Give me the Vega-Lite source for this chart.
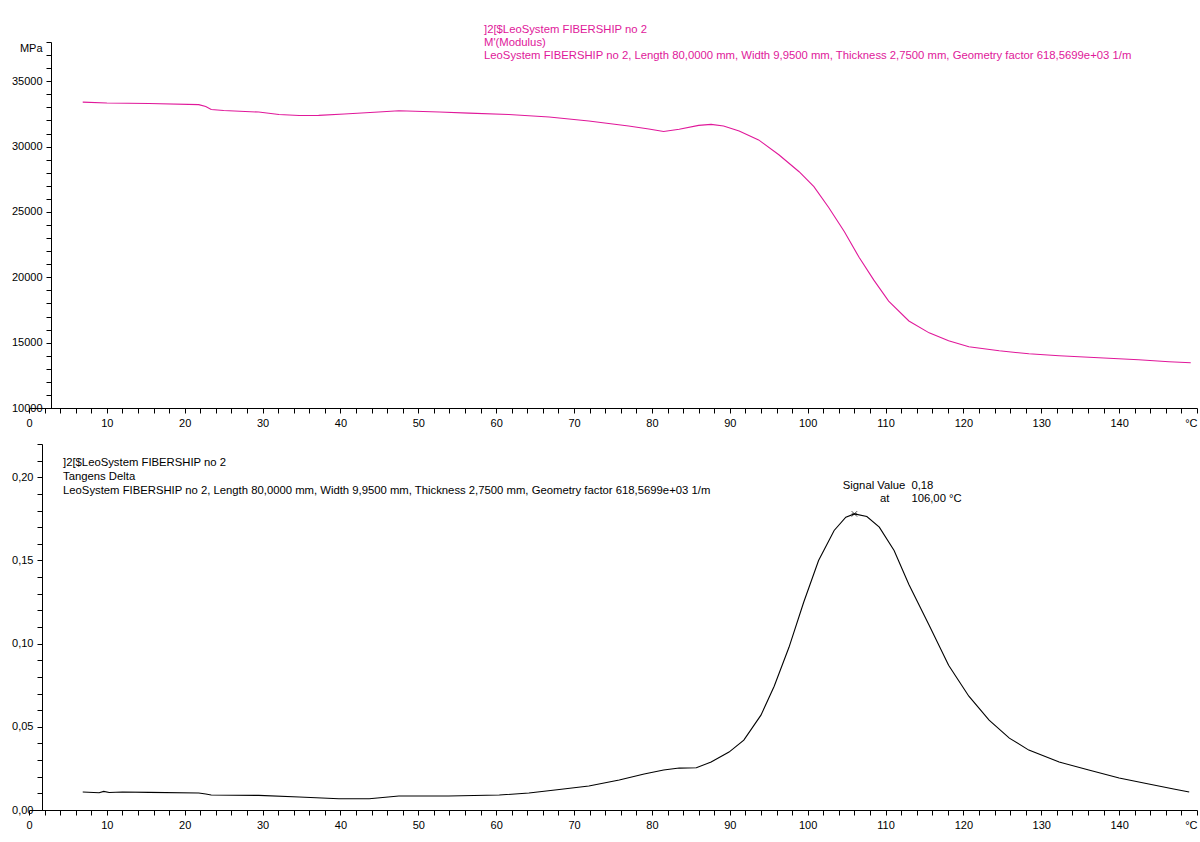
{
  "$schema": "https://vega.github.io/schema/vega-lite/v6.json",
  "padding": {"left": 11, "top": 24, "right": 0, "bottom": 5},
  "background": "white",
  "spacing": 10,
  "config": {
    "font": "Liberation Sans",
    "view": {"stroke": null},
    "axis": {"labelFont": "Liberation Sans", "labelFontSize": 11, "labelColor": "#000", "domainColor": "#000", "tickColor": "#000", "grid": false, "title": null, "tickSize": 5, "labelPadding": 4, "labelOverlap": false, "labelBound": false, "domainWidth": 1, "tickWidth": 1}
  },
  "datasets": {
    "modulus": [
      {"T": 6.9, "M": 33400}, {"T": 10, "M": 33330}, {"T": 15.4, "M": 33290}, {"T": 21.8, "M": 33210}, {"T": 22.7, "M": 33060}, {"T": 23.4, "M": 32830}, {"T": 25, "M": 32755}, {"T": 29.5, "M": 32640}, {"T": 32.1, "M": 32450}, {"T": 34.7, "M": 32375}, {"T": 37.2, "M": 32390}, {"T": 40.5, "M": 32490}, {"T": 44.9, "M": 32640}, {"T": 47.5, "M": 32740}, {"T": 52.7, "M": 32640}, {"T": 56.5, "M": 32560}, {"T": 61.6, "M": 32450}, {"T": 66.8, "M": 32260}, {"T": 71.9, "M": 31956}, {"T": 77, "M": 31575}, {"T": 79.6, "M": 31347}, {"T": 81.5, "M": 31150}, {"T": 83.5, "M": 31320}, {"T": 86, "M": 31620}, {"T": 87.6, "M": 31700}, {"T": 89.2, "M": 31575}, {"T": 91.2, "M": 31195}, {"T": 93.7, "M": 30510}, {"T": 96.3, "M": 29370}, {"T": 98.9, "M": 28075}, {"T": 100.8, "M": 26933}, {"T": 102.7, "M": 25335}, {"T": 104.7, "M": 23508}, {"T": 106.6, "M": 21530}, {"T": 108.5, "M": 19780}, {"T": 110.4, "M": 18180}, {"T": 113, "M": 16660}, {"T": 115.6, "M": 15747}, {"T": 118.1, "M": 15138}, {"T": 120.7, "M": 14680}, {"T": 124.6, "M": 14376}, {"T": 128.4, "M": 14148}, {"T": 132.3, "M": 13996}, {"T": 137.4, "M": 13844}, {"T": 142.5, "M": 13692}, {"T": 146.4, "M": 13540}, {"T": 149.2, "M": 13463}
    ],
    "tan": [
      {"T": 6.9, "D": 0.0108}, {"T": 9, "D": 0.0104}, {"T": 9.6, "D": 0.0112}, {"T": 10.3, "D": 0.0105}, {"T": 12, "D": 0.0108}, {"T": 15.4, "D": 0.0106}, {"T": 21.8, "D": 0.0102}, {"T": 22.7, "D": 0.0096}, {"T": 23.4, "D": 0.009}, {"T": 29.5, "D": 0.0088}, {"T": 34.7, "D": 0.0078}, {"T": 39.8, "D": 0.0068}, {"T": 43.7, "D": 0.0068}, {"T": 47.5, "D": 0.0084}, {"T": 53.9, "D": 0.0084}, {"T": 60.4, "D": 0.009}, {"T": 64.2, "D": 0.0102}, {"T": 68.1, "D": 0.0123}, {"T": 71.9, "D": 0.0144}, {"T": 75.8, "D": 0.018}, {"T": 79, "D": 0.0216}, {"T": 81.5, "D": 0.024}, {"T": 83.5, "D": 0.0252}, {"T": 85.7, "D": 0.0254}, {"T": 87.6, "D": 0.0288}, {"T": 89.9, "D": 0.0348}, {"T": 91.8, "D": 0.042}, {"T": 94, "D": 0.057}, {"T": 95.7, "D": 0.0744}, {"T": 97.6, "D": 0.0978}, {"T": 99.5, "D": 0.125}, {"T": 101.4, "D": 0.15}, {"T": 103.4, "D": 0.168}, {"T": 104.9, "D": 0.176}, {"T": 106, "D": 0.178}, {"T": 107.6, "D": 0.1764}, {"T": 109.2, "D": 0.17}, {"T": 111.1, "D": 0.156}, {"T": 113, "D": 0.1356}, {"T": 115.6, "D": 0.111}, {"T": 118.1, "D": 0.087}, {"T": 120.7, "D": 0.0684}, {"T": 123.3, "D": 0.054}, {"T": 125.9, "D": 0.0432}, {"T": 128.4, "D": 0.036}, {"T": 132.3, "D": 0.0288}, {"T": 136.1, "D": 0.024}, {"T": 140, "D": 0.0192}, {"T": 143.8, "D": 0.0156}, {"T": 147, "D": 0.0126}, {"T": 149, "D": 0.0108}
    ],
    "peak": [{"T": 106, "D": 0.178}]
  },
  "vconcat": [
    {
      "width": 1168,
      "height": 366,
      "data": {"name": "modulus"},
      "title": {
        "text": ["]2[$LeoSystem FIBERSHIP no 2", "M'(Modulus)", "LeoSystem FIBERSHIP no 2, Length 80,0000 mm, Width 9,9500 mm, Thickness 2,7500 mm, Geometry factor 618,5699e+03 1/m"],
        "anchor": "start", "frame": "group", "dx": 455, "offset": -20,
        "color": "#e0189a", "fontSize": 11.3, "fontWeight": "normal", "font": "Liberation Sans", "lineHeight": 13
      },
      "mark": {"type": "line", "color": "#e0189a", "strokeWidth": 1.1},
      "encoding": {
        "x": {
          "field": "T", "type": "quantitative",
          "scale": {"domain": [0, 150], "nice": false, "zero": false},
          "axis": {
            "values": [0,2,4,6,8,10,12,14,16,18,20,22,24,26,28,30,32,34,36,38,40,42,44,46,48,50,52,54,56,58,60,62,64,66,68,70,72,74,76,78,80,82,84,86,88,90,92,94,96,98,100,102,104,106,108,110,112,114,116,118,120,122,124,126,128,130,132,134,136,138,140,142,144,146,148,150],
            "labelExpr": "datum.value == 150 ? '°C' : (datum.value % 10 == 0 ? format(datum.value, 'd') : '')",
            "labelAlign": {"condition": {"test": "datum.value == 150", "value": "right"}, "value": "center"}
          }
        },
        "y": {
          "field": "M", "type": "quantitative",
          "scale": {"domain": [10000, 38000], "nice": false, "zero": false},
          "axis": {
            "values": [10000,11000,12000,13000,14000,15000,16000,17000,18000,19000,20000,21000,22000,23000,24000,25000,26000,27000,28000,29000,30000,31000,32000,33000,34000,35000,36000,37000,38000],
            "labelExpr": "datum.value == 38000 ? 'MPa' : (datum.value % 5000 == 0 ? format(datum.value, 'd') : '')",
            "labelBaseline": {"condition": {"test": "datum.value == 38000", "value": "top"}, "value": "middle"},
            "offset": -22
          }
        }
      }
    },
    {
      "width": 1168,
      "height": 366,
      "title": {
        "text": ["]2[$LeoSystem FIBERSHIP no 2", "Tangens Delta", "LeoSystem FIBERSHIP no 2, Length 80,0000 mm, Width 9,9500 mm, Thickness 2,7500 mm, Geometry factor 618,5699e+03 1/m"],
        "anchor": "start", "frame": "group", "dx": 34, "offset": -58,
        "color": "#000", "fontSize": 11.3, "fontWeight": "normal", "font": "Liberation Sans", "lineHeight": 14
      },
      "encoding": {
        "x": {
          "field": "T", "type": "quantitative",
          "scale": {"domain": [0, 150], "nice": false, "zero": false},
          "axis": {
            "values": [0,2,4,6,8,10,12,14,16,18,20,22,24,26,28,30,32,34,36,38,40,42,44,46,48,50,52,54,56,58,60,62,64,66,68,70,72,74,76,78,80,82,84,86,88,90,92,94,96,98,100,102,104,106,108,110,112,114,116,118,120,122,124,126,128,130,132,134,136,138,140,142,144,146,148,150],
            "labelExpr": "datum.value == 150 ? '°C' : (datum.value % 10 == 0 ? format(datum.value, 'd') : '')",
            "labelAlign": {"condition": {"test": "datum.value == 150", "value": "right"}, "value": "center"}
          }
        },
        "y": {
          "field": "D", "type": "quantitative",
          "scale": {"domain": [0, 0.22], "nice": false, "zero": false},
          "axis": {
            "values": [0,0.01,0.02,0.03,0.04,0.05,0.06,0.07,0.08,0.09,0.1,0.11,0.12,0.13,0.14,0.15,0.16,0.17,0.18,0.19,0.2,0.21,0.22],
            "labelExpr": "round(datum.value * 100) % 5 == 0 && datum.value < 0.215 ? replace(format(datum.value, '.2f'), '.', ',') : ''",
            "offset": -13
          }
        }
      },
      "layer": [
        {"data": {"name": "tan"}, "mark": {"type": "line", "color": "#000", "strokeWidth": 1.1}},
        {"data": {"name": "peak"}, "mark": {"type": "point", "shape": "M-1,-1L1,1M-1,1L1,-1M-1,0L1,0", "size": 30, "filled": false, "stroke": "#000", "strokeWidth": 1}},
        {"data": {"name": "peak"}, "mark": {"type": "text", "text": "Signal Value", "align": "right", "dx": 51, "dy": -28, "fontSize": 11.3, "font": "Liberation Sans", "color": "#000"}},
        {"data": {"name": "peak"}, "mark": {"type": "text", "text": "0,18", "align": "left", "dx": 57, "dy": -28, "fontSize": 11.3, "font": "Liberation Sans", "color": "#000"}},
        {"data": {"name": "peak"}, "mark": {"type": "text", "text": "at", "align": "right", "dx": 35, "dy": -15, "fontSize": 11.3, "font": "Liberation Sans", "color": "#000"}},
        {"data": {"name": "peak"}, "mark": {"type": "text", "text": "106,00 °C", "align": "left", "dx": 57, "dy": -15, "fontSize": 11.3, "font": "Liberation Sans", "color": "#000"}}
      ]
    }
  ]
}
